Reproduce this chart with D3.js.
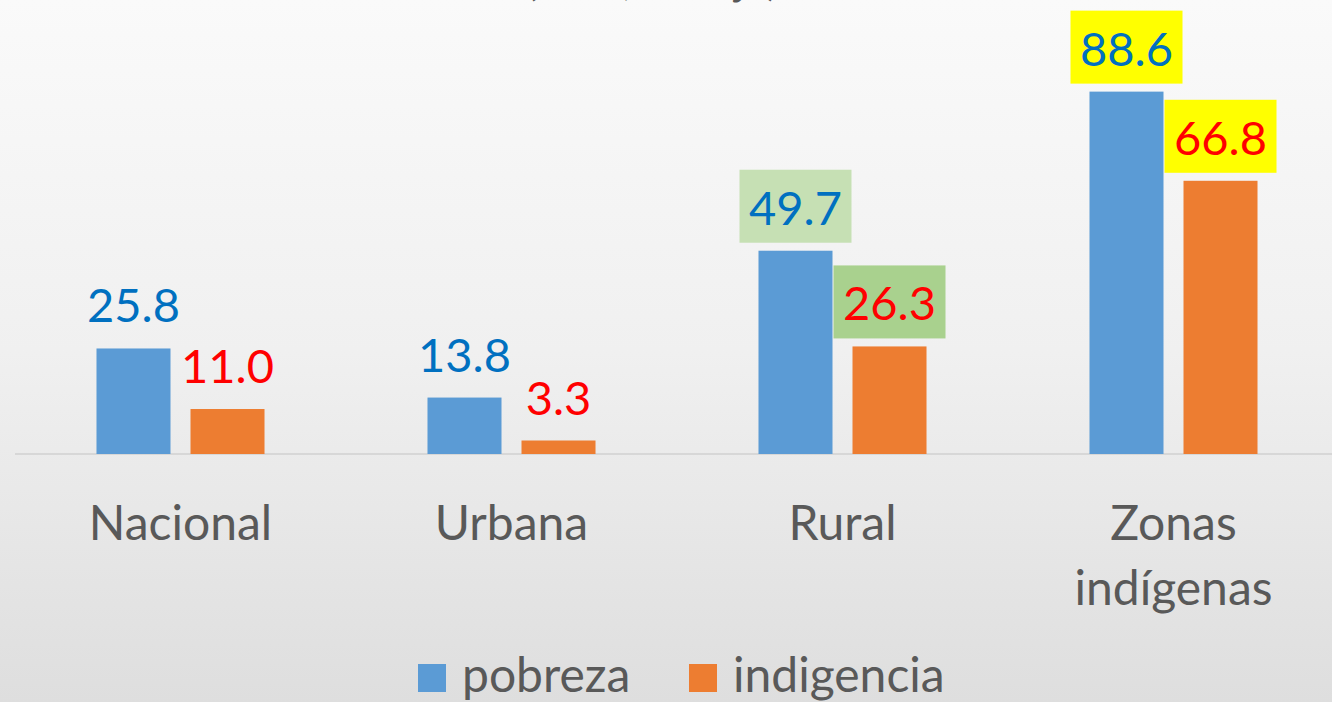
<!DOCTYPE html>
<html>
<head>
<meta charset="utf-8">
<script src="https://cdn.jsdelivr.net/npm/d3@7"></script>
<style>
  body { margin: 0; overflow: hidden; }
  text { font-family: Lato, "Noto Sans", sans-serif; }
</style>
</head>
<body>
<div class="chart"></div>
<script>
// Pobreza e indigencia por area

var categories = ["Nacional", "Urbana", "Rural", "Zonas indígenas"];
var seriesNames = ["pobreza", "indigencia"];
var pobreza = [25.8, 13.8, 49.7, 88.6];
var indigencia = [11.0, 3.3, 26.3, 66.8];

// highlight boxes behind some labels
var pobrezaBox = [null, null, "#c6e0b4", "#ffff00"];
var indigenciaBox = [null, null, "#a9d18e", "#ffff00"];

var svgWidth = 1332;
var svgHeight = 702;

var barColor = { pobreza: "#5b9bd5", indigencia: "#ed7d31" };
var labelColor = { pobreza: "#0070c0", indigencia: "#ff0000" };

var svg = d3.select(".chart")
  .append("svg")
  .attr("width", svgWidth)
  .attr("height", svgHeight);

// background
var grad = svg.append("defs").append("linearGradient")
  .attr("id", "bg")
  .attr("x1", 0).attr("y1", 0).attr("x2", 0).attr("y2", 1);
grad.append("stop").attr("offset", "0%").attr("stop-color", "#fafafa");
grad.append("stop").attr("offset", "50%").attr("stop-color", "#f0f0f0");
grad.append("stop").attr("offset", "100%").attr("stop-color", "#dedede");

svg.append("rect")
  .attr("width", svgWidth)
  .attr("height", svgHeight)
  .attr("fill", "url(#bg)");

// title, mostly cut off at the top edge
svg.append("text")
  .attr("x", 652)
  .attr("y", -5)
  .attr("text-anchor", "middle")
  .attr("font-size", 40)
  .attr("font-weight", "bold")
  .attr("fill", "#595959")
  .text("(en %, trabajo)");

// scales
var x0 = d3.scaleBand()
  .domain(categories)
  .range([15, 1339])
  .paddingInner(0.4924)
  .paddingOuter(0.2462);

var x1 = d3.scaleBand()
  .domain(seriesNames)
  .range([0, x0.bandwidth()])
  .paddingInner(0.2128);

var y = d3.scaleLinear()
  .domain([0, 100])
  .range([454, 45]);

var data = categories.map(function (c, i) {
  return {
    category: c,
    values: [
      { key: "pobreza", value: pobreza[i], box: pobrezaBox[i] },
      { key: "indigencia", value: indigencia[i], box: indigenciaBox[i] }
    ]
  };
});

// axis line
svg.append("line")
  .attr("x1", 15)
  .attr("x2", svgWidth)
  .attr("y1", y(0))
  .attr("y2", y(0))
  .attr("stroke", "#d0d0d0")
  .attr("stroke-width", 1.5);

var groups = svg.selectAll(".cat")
  .data(data)
  .enter()
  .append("g")
  .attr("class", "cat")
  .attr("transform", d => `translate(${x0(d.category)},0)`);

groups.selectAll("rect.bar")
  .data(d => d.values)
  .enter()
  .append("rect")
  .attr("class", "bar")
  .attr("x", d => x1(d.key))
  .attr("y", d => y(d.value))
  .attr("width", x1.bandwidth())
  .attr("height", d => y(0) - y(d.value))
  .attr("fill", d => barColor[d.key]);

// label boxes
groups.selectAll("rect.box")
  .data(d => d.values.filter(v => v.box))
  .enter()
  .append("rect")
  .attr("class", "box")
  .attr("x", d => x1(d.key) + x1.bandwidth() / 2 - 56)
  .attr("y", d => y(d.value) - 26 - 55)
  .attr("width", 112)
  .attr("height", 73)
  .attr("fill", d => d.box);

// value labels
groups.selectAll("text.val")
  .data(d => d.values)
  .enter()
  .append("text")
  .attr("class", "val")
  .attr("x", d => x1(d.key) + x1.bandwidth() / 2)
  .attr("y", d => y(d.value) - 26)
  .attr("text-anchor", "middle")
  .attr("font-size", 47)
  .attr("fill", d => labelColor[d.key])
  .text(d => d3.format(".1f")(d.value));

// category labels
groups.each(function (d) {
  var words = d.category === "Zonas indígenas" ? ["Zonas", "indígenas"] : [d.category];
  var t = d3.select(this).append("text")
    .attr("text-anchor", "middle")
    .attr("font-size", 48)
    .attr("fill", "#595959");
  words.forEach(function (w, i) {
    t.append("tspan")
      .attr("x", x0.bandwidth() / 2)
      .attr("y", 540 + i * 65)
      .text(w);
  });
});

// legend
var legend = svg.append("g");
var legendX = [418, 689];
seriesNames.forEach(function (s, i) {
  legend.append("rect")
    .attr("x", legendX[i])
    .attr("y", 664)
    .attr("width", 28)
    .attr("height", 28)
    .attr("fill", barColor[s]);
  legend.append("text")
    .attr("x", legendX[i] + 44)
    .attr("y", 692)
    .attr("font-size", 48)
    .attr("fill", "#595959")
    .text(s);
});
</script>
</body>
</html>
